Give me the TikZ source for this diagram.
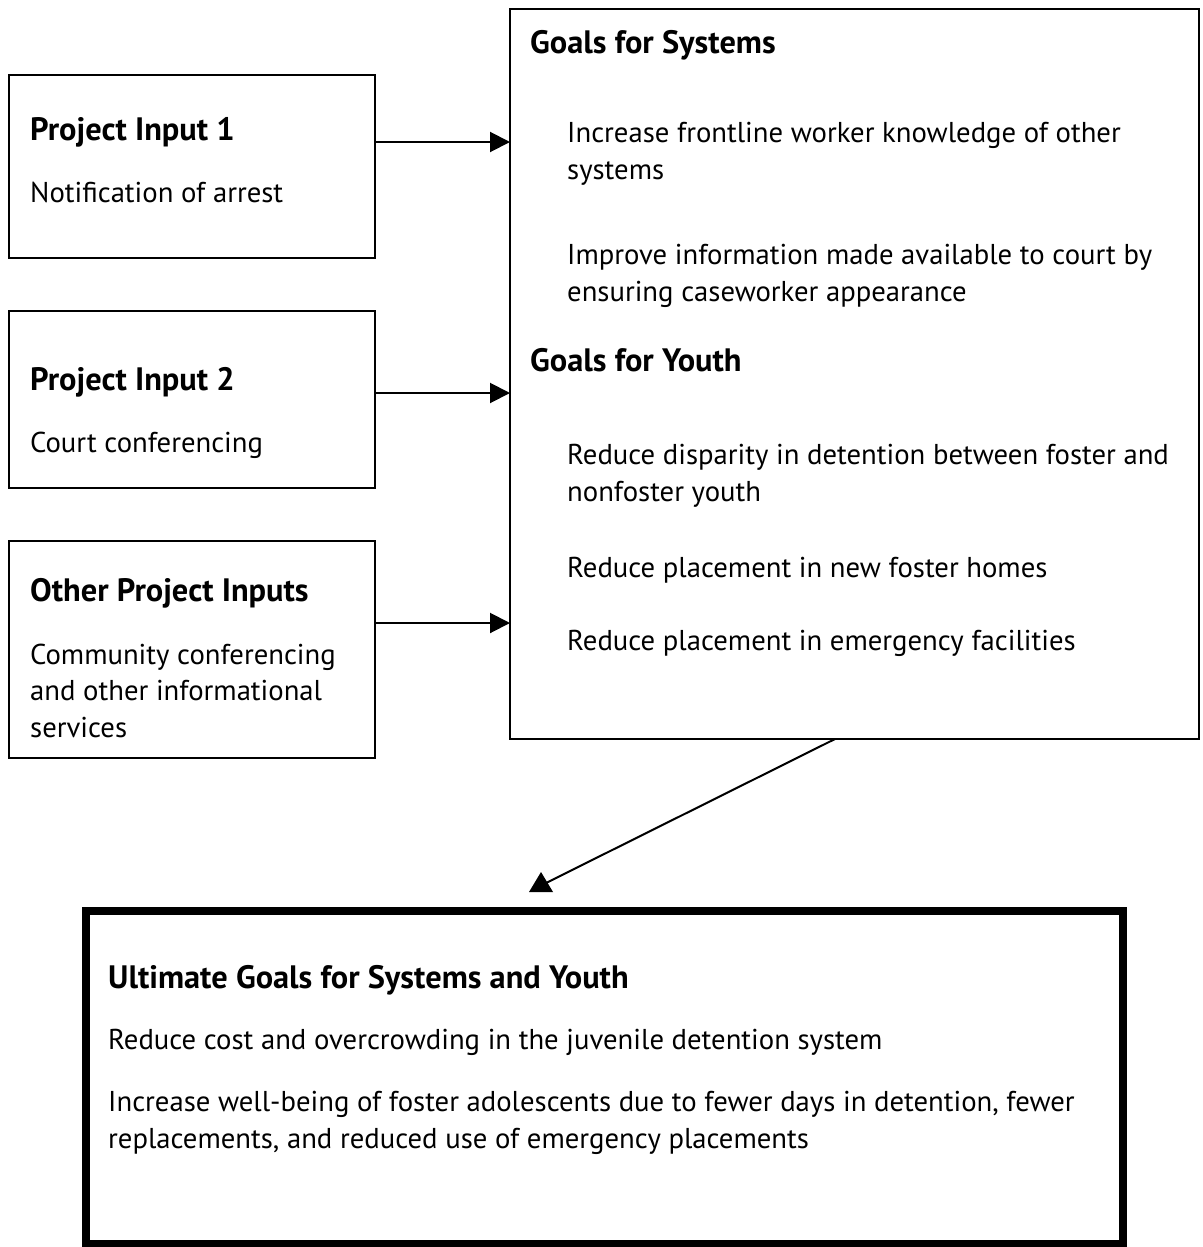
\documentclass[tikz,border=0pt]{standalone}
\usepackage{fontspec}
\setmainfont{PT Sans}
\usetikzlibrary{arrows.meta}
\begin{document}
\begin{tikzpicture}[x=1pt,y=-1pt,
  box/.style={draw,line width=2pt},
  bigbox/.style={draw,line width=8pt},
  txt/.style={anchor=base west,inner sep=0pt,font=\fontsize{28.7}{34}\selectfont},
  head/.style={anchor=base west,inner sep=0pt,font=\fontsize{32.4}{38}\selectfont\bfseries},
  arr/.style={line width=2pt,-{Triangle[length=20pt,width=20pt]}},
  tipline/.style={line width=2pt},
  tip/.style={fill=black}]
\useasboundingbox[fill=white] (0,0) rectangle (1202,1247);
% boxes
\draw[box] (9,75) rectangle (375,258);
\draw[box] (9,311) rectangle (375,488);
\draw[box] (9,541) rectangle (375,758);
\draw[box] (510,9) rectangle (1199,739);
\begin{scope}
\clip (0,0) rectangle (1202,1247);
\draw[bigbox] (86,911) rectangle (1123,1244);
\end{scope}
\coordinate (g) at (510,300);
% box 1
\node[head] (t1) at (30,140) {Project Input 1};
\node[txt] (t2) at (30,202) {Notification of arrest};
% box 2
\node[head] (t3) at (30,390) {Project Input 2};
\node[txt] (t4) at (30,452) {Court conferencing};
% box 3
\node[head] (t5) at (30,601) {Other Project Inputs};
\node[txt] (t6) at (30,664) {Community conferencing};
\node[txt] (t7) at (30,700) {and other informational};
\node[txt] (t8) at (30,737) {services};
% right box
\node[head] (r1) at (530,53) {Goals for Systems};
\node[txt] (r2) at (567,142) {Increase frontline worker knowledge of other};
\node[txt] (r3) at (567,179) {systems};
\node[txt] (r4) at (567,264) {Improve information made available to court by};
\node[txt] (r5) at (567,301) {ensuring caseworker appearance};
\node[head] (r6) at (530,371) {Goals for Youth};
\node[txt] (r7) at (567,464) {Reduce disparity in detention between foster and};
\node[txt] (r8) at (567,501) {nonfoster youth};
\node[txt] (r9) at (567,577) {Reduce placement in new foster homes};
\node[txt] (r10) at (567,650) {Reduce placement in emergency facilities};
% bottom box
\node[head] (u1) at (108,988) {Ultimate Goals for Systems and Youth};
\node[txt] (u2) at (108,1049) {Reduce cost and overcrowding in the juvenile detention system};
\node[txt] (u3) at (108,1111) {Increase well-being of foster adolescents due to fewer days in detention, fewer};
\node[txt] (u4) at (108,1148) {replacements, and reduced use of emergency placements};
% arrows
\coordinate (a1) at (375,142);
\coordinate (a2) at (375,393);
\coordinate (a3) at (375,623);
\coordinate (a4) at (835,739);
\coordinate (e4) at (546,883);
\draw[arr] (a1) -- (a1 -| g);
\draw[arr] (a2) -- (a2 -| g);
\draw[arr] (a3) -- (a3 -| g);
\draw[tipline] (a4) -- (e4);
\fill[tip] (541,872) -- (529,892) -- (553,892) -- cycle;
\end{tikzpicture}
\end{document}
